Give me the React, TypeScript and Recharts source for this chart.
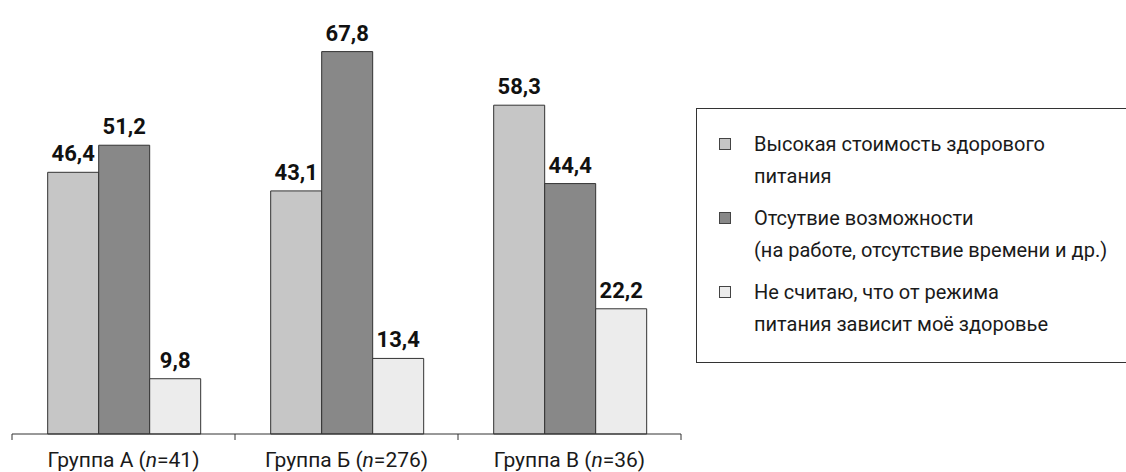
import { BarChart, Bar, XAxis, YAxis, LabelList } from 'recharts';

const groups = ['Группа А', 'Группа Б', 'Группа В'];
const groupSizes = [41, 276, 36];
const highCost = [46.4, 43.1, 58.3];
const noOpportunity = [51.2, 67.8, 44.4];
const notDepend = [9.8, 13.4, 22.2];

const seriesNames = [
  ['Высокая стоимость здорового', 'питания'],
  ['Отсутвие возможности', '(на работе, отсутствие времени и др.)'],
  ['Не считаю, что от режима', 'питания зависит моё здоровье'],
];
const seriesColors = ['#c6c6c6', '#888888', '#ececec'];

const chartData = groups.map((g, i) => ({
  group: g,
  n: groupSizes[i],
  highCost: highCost[i],
  noOpportunity: noOpportunity[i],
  notDepend: notDepend[i],
}));

const WIDTH = 1126;
const HEIGHT = 472;
const MARGIN = { top: 11, right: 445, bottom: 0, left: 12 };
const FONT = 'Roboto, "DejaVu Sans", sans-serif';
const band = (WIDTH - MARGIN.left - MARGIN.right) / groups.length;

const fmt = (v: number) => String(v).replace('.', ',');

function GroupTick(props: any) {
  const { x, y, payload, index } = props;
  const d = chartData[index];
  const axisY = y - 8;
  return (
    <g>
      <line x1={x - band / 2} x2={x - band / 2} y1={axisY} y2={axisY + 6} stroke="#333" />
      {index === groups.length - 1 && (
        <line x1={x + band / 2} x2={x + band / 2} y1={axisY} y2={axisY + 6} stroke="#333" />
      )}
      <text x={x} y={y} dy={25} textAnchor="middle" fontFamily={FONT} fontSize={21} fill="#1a1a1a">
        {payload.value} (<tspan fontStyle="italic">n</tspan>={d ? d.n : ''})
      </text>
    </g>
  );
}

function LegendBox() {
  return (
    <div
      style={{
        position: 'absolute',
        left: 696,
        top: 108,
        width: 430,
        height: 255,
        border: '1px solid #333',
        borderRight: 'none',
        boxSizing: 'border-box',
        padding: '19px 0 0 0',
        fontFamily: FONT,
        fontSize: 20,
        color: '#1a1a1a',
      }}
    >
      {seriesNames.map((lines, i) => (
        <div key={i} style={{ position: 'relative', marginBottom: 10, paddingLeft: 57 }}>
          <span
            style={{
              position: 'absolute',
              left: 22,
              top: 10,
              width: 12,
              height: 12,
              boxSizing: 'border-box',
              background: seriesColors[i],
              border: '1px solid #444',
            }}
          />
          {lines.map((l, j) => (
            <div key={j} style={{ lineHeight: '32px', whiteSpace: 'nowrap' }}>
              {l}
            </div>
          ))}
        </div>
      ))}
    </div>
  );
}

const labelStyle = { fontFamily: FONT, fontSize: 22, fontWeight: 700, fill: '#111' };

export default function App() {
  return (
    <div style={{ position: 'absolute', left: 0, top: 0, width: WIDTH, height: HEIGHT, background: '#fff' }}>
      <BarChart
        width={WIDTH}
        height={HEIGHT}
        data={chartData}
        margin={MARGIN}
        barCategoryGap="16%"
        barGap={0}
      >
        <XAxis
          dataKey="group"
          tickLine={false}
          axisLine={{ stroke: '#333' }}
          tickSize={6}
          tickMargin={2}
          height={38}
          interval={0}
          tick={<GroupTick />}
        />
        <YAxis hide domain={[0, 75]} />
        <Bar dataKey="highCost" fill={seriesColors[0]} stroke="#333" strokeWidth={1} isAnimationActive={false}>
          <LabelList dataKey="highCost" position="top" offset={11} formatter={fmt} style={labelStyle} />
        </Bar>
        <Bar dataKey="noOpportunity" fill={seriesColors[1]} stroke="#333" strokeWidth={1} isAnimationActive={false}>
          <LabelList dataKey="noOpportunity" position="top" offset={11} formatter={fmt} style={labelStyle} />
        </Bar>
        <Bar dataKey="notDepend" fill={seriesColors[2]} stroke="#333" strokeWidth={1} isAnimationActive={false}>
          <LabelList dataKey="notDepend" position="top" offset={11} formatter={fmt} style={labelStyle} />
        </Bar>
      </BarChart>
      <LegendBox />
    </div>
  );
}
